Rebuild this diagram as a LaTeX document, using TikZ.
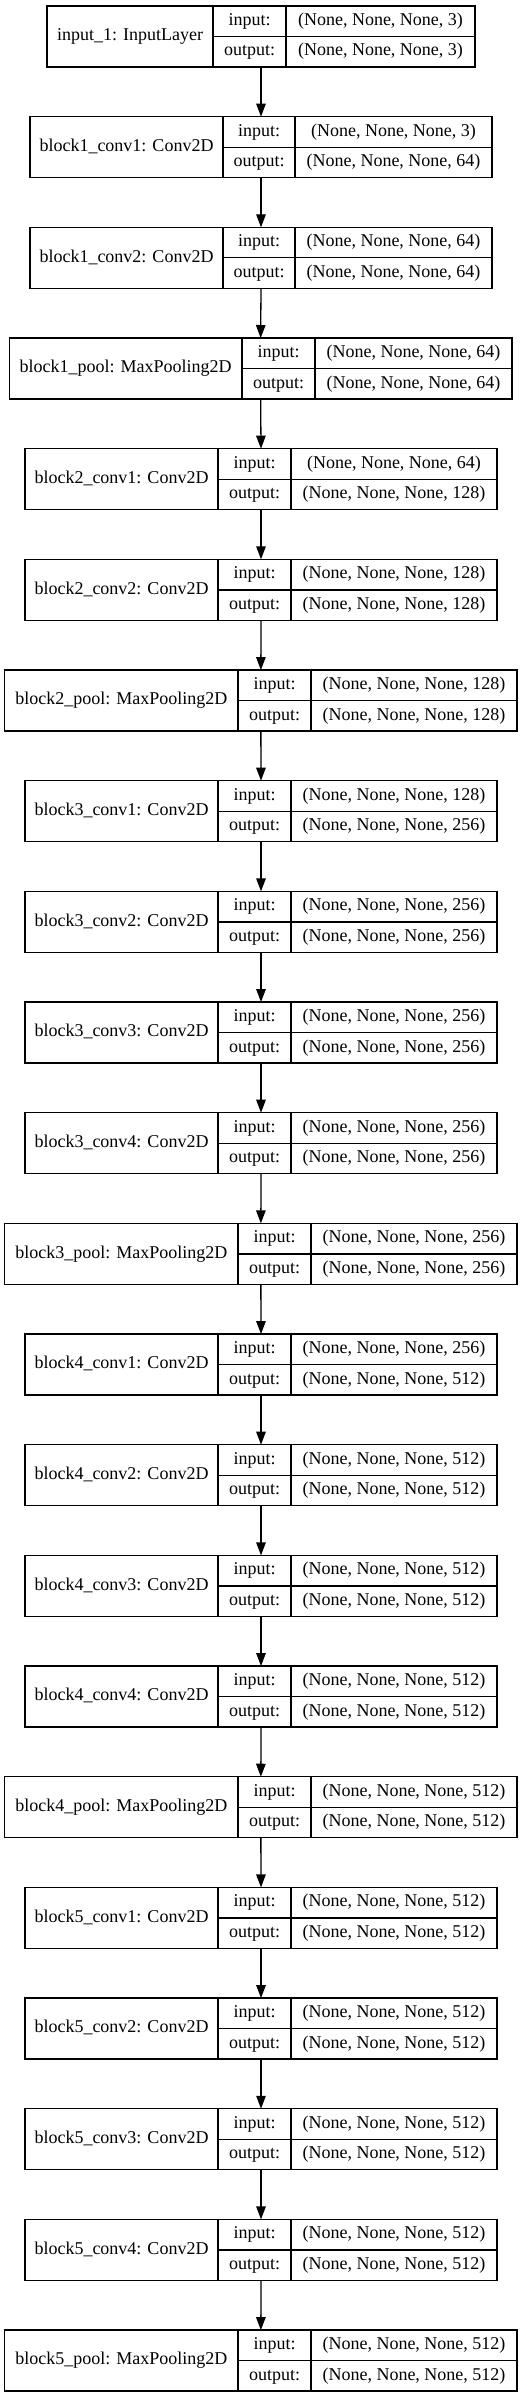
\documentclass[tikz,border=0pt]{standalone}
\usepackage{fontspec}
\setmainfont{Liberation Serif}
\usetikzlibrary{arrows.meta}
\tikzset{
  cell/.style={draw=black, line width=1.3pt, inner sep=0pt, outer sep=0pt,
    text height=13pt, text depth=4.5pt, font=\fontsize{18}{21.6}\selectfont},
  outline/.style={inner sep=0pt, outer sep=0pt},
  flow/.style={line width=1.3pt, -{Triangle[length=13pt,width=9.5pt]}},
}
% column types: left, divider 1, divider 2, right
\newcommand\settype[1]{%
  \ifcase#1\relax
    \def\xL{47}\def\xA{213}\def\xB{286}\def\xR{475}% 0 input layer
  \or\def\xL{30}\def\xA{223}\def\xB{295}\def\xR{492}% 1 conv, 2 digits
  \or\def\xL{25}\def\xA{218}\def\xB{291}\def\xR{497}% 2 conv, 3 digits
  \or\def\xL{9.3}\def\xA{242}\def\xB{315}\def\xR{512}% 3 pool, 2 digits
  \or\def\xL{4.7}\def\xA{238}\def\xB{311}\def\xR{517}% 4 pool, 3 digits
  \fi}
\newcommand\kerasLayer[5]{%
  \settype{#2}%
  \pgfmathsetmacro\yT{6+#1*110.67}%
  \pgfmathsetmacro\yM{\yT+30.5}%
  \pgfmathsetmacro\yU{\yT+15.25}%
  \pgfmathsetmacro\yD{\yT+45.75}%
  \pgfmathsetmacro\wN{\xA-\xL}%
  \pgfmathsetmacro\wI{\xB-\xA}%
  \pgfmathsetmacro\wS{\xR-\xB}%
  \pgfmathsetmacro\wT{\xR-\xL}%
  \pgfmathsetmacro\cN{(\xL+\xA)/2}%
  \pgfmathsetmacro\cI{(\xA+\xB)/2}%
  \pgfmathsetmacro\cS{(\xB+\xR)/2}%
  \pgfmathsetmacro\cT{(\xL+\xR)/2}%
  \node[outline, minimum width=\wT pt, minimum height=61pt] (b#1) at (\cT,\yM) {};
  \node[cell, minimum width=\wN pt, minimum height=61pt] (n#1) at (\cN,\yM) {#3};
  \node[cell, minimum width=\wI pt, minimum height=30.5pt] (i#1) at (\cI,\yU) {input:};
  \node[cell, minimum width=\wI pt, minimum height=30.5pt] (o#1) at (\cI,\yD) {output:};
  \node[cell, minimum width=\wS pt, minimum height=30.5pt] (si#1) at (\cS,\yU) {#4};
  \node[cell, minimum width=\wS pt, minimum height=30.5pt] (so#1) at (\cS,\yD) {#5};
}
\begin{document}
\begin{tikzpicture}[x=1pt,y=-1pt]
\useasboundingbox (0,0) rectangle (527,2397);
\fill[white] (0,0) rectangle (527,2397);
\kerasLayer{0}{0}{input\_1: InputLayer}{(None, None, None, 3)}{(None, None, None, 3)}
\kerasLayer{1}{1}{block1\_conv1: Conv2D}{(None, None, None, 3)}{(None, None, None, 64)}
\kerasLayer{2}{1}{block1\_conv2: Conv2D}{(None, None, None, 64)}{(None, None, None, 64)}
\kerasLayer{3}{3}{block1\_pool: MaxPooling2D}{(None, None, None, 64)}{(None, None, None, 64)}
\kerasLayer{4}{2}{block2\_conv1: Conv2D}{(None, None, None, 64)}{(None, None, None, 128)}
\kerasLayer{5}{2}{block2\_conv2: Conv2D}{(None, None, None, 128)}{(None, None, None, 128)}
\kerasLayer{6}{4}{block2\_pool: MaxPooling2D}{(None, None, None, 128)}{(None, None, None, 128)}
\kerasLayer{7}{2}{block3\_conv1: Conv2D}{(None, None, None, 128)}{(None, None, None, 256)}
\kerasLayer{8}{2}{block3\_conv2: Conv2D}{(None, None, None, 256)}{(None, None, None, 256)}
\kerasLayer{9}{2}{block3\_conv3: Conv2D}{(None, None, None, 256)}{(None, None, None, 256)}
\kerasLayer{10}{2}{block3\_conv4: Conv2D}{(None, None, None, 256)}{(None, None, None, 256)}
\kerasLayer{11}{4}{block3\_pool: MaxPooling2D}{(None, None, None, 256)}{(None, None, None, 256)}
\kerasLayer{12}{2}{block4\_conv1: Conv2D}{(None, None, None, 256)}{(None, None, None, 512)}
\kerasLayer{13}{2}{block4\_conv2: Conv2D}{(None, None, None, 512)}{(None, None, None, 512)}
\kerasLayer{14}{2}{block4\_conv3: Conv2D}{(None, None, None, 512)}{(None, None, None, 512)}
\kerasLayer{15}{2}{block4\_conv4: Conv2D}{(None, None, None, 512)}{(None, None, None, 512)}
\kerasLayer{16}{4}{block4\_pool: MaxPooling2D}{(None, None, None, 512)}{(None, None, None, 512)}
\kerasLayer{17}{2}{block5\_conv1: Conv2D}{(None, None, None, 512)}{(None, None, None, 512)}
\kerasLayer{18}{2}{block5\_conv2: Conv2D}{(None, None, None, 512)}{(None, None, None, 512)}
\kerasLayer{19}{2}{block5\_conv3: Conv2D}{(None, None, None, 512)}{(None, None, None, 512)}
\kerasLayer{20}{2}{block5\_conv4: Conv2D}{(None, None, None, 512)}{(None, None, None, 512)}
\kerasLayer{21}{4}{block5\_pool: MaxPooling2D}{(None, None, None, 512)}{(None, None, None, 512)}
\foreach \a [evaluate=\a as \b using int(\a+1)] in {0,...,20}
  \draw[flow] (b\a.south) -- (b\b.north);
\end{tikzpicture}
\end{document}
